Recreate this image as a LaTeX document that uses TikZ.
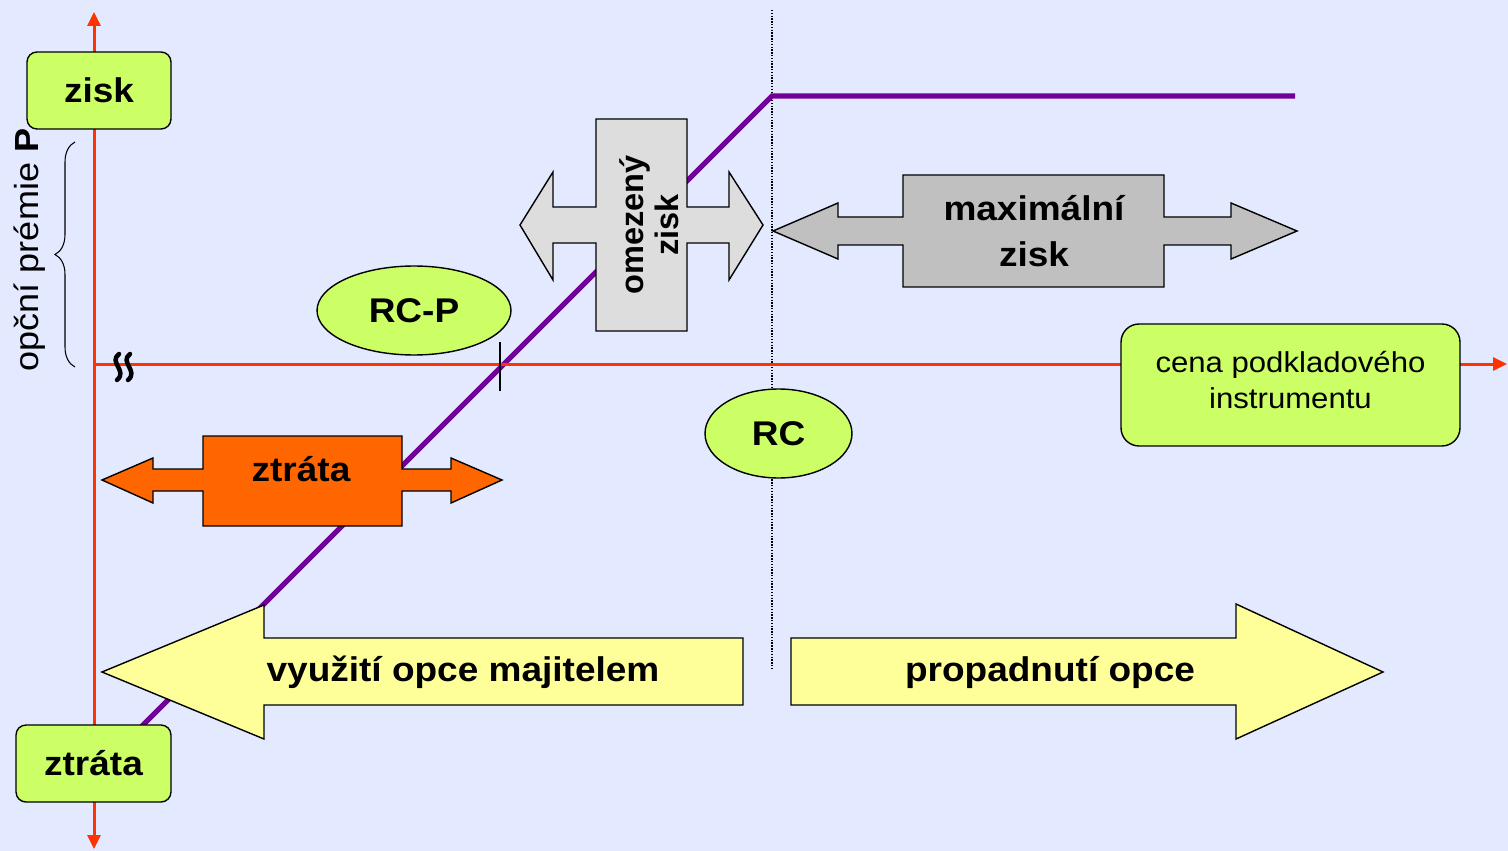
\documentclass[tikz,border=0pt]{standalone}
\usepackage{fontspec}
\setmainfont{Liberation Sans}[FakeStretch=1.08]
\newfontfamily\plainsans{Liberation Sans}
\usetikzlibrary{arrows.meta,decorations.pathreplacing,shapes.geometric}
\definecolor{bg}{RGB}{227,233,255}
\definecolor{axisred}{RGB}{255,51,0}
\definecolor{payoffc}{RGB}{112,0,150}
\definecolor{lime}{RGB}{204,255,102}
\definecolor{orng}{RGB}{255,102,0}
\definecolor{lgray}{RGB}{221,221,221}
\definecolor{mgray}{RGB}{192,192,192}
\definecolor{lyellow}{RGB}{255,255,153}
\begin{document}
\begin{tikzpicture}[x=0.02cm,y=-0.02cm,
  axis/.style={draw=axisred,line width=0.06cm},
  axtip/.style={-{Triangle[length=0.28cm,width=0.26cm]}},
  payoffline/.style={draw=payoffc,line width=0.105cm},
  bigfont/.style={font=\fontsize{19.5}{22}\selectfont\bfseries},
  greenbox/.style={draw=black,fill=lime,line width=0.8pt,rounded corners=0.2cm,bigfont,inner sep=0pt},
  greenell/.style={ellipse,draw=black,fill=lime,line width=0.8pt,bigfont,inner sep=0pt},
  shapeout/.style={draw=black,line width=0.8pt},
  boldlabel/.style={bigfont,align=center,inner sep=0pt}
]
\path[use as bounding box,fill=bg] (0,0) rectangle (1508,851);

% named coordinates
\coordinate (ytop) at (94,12);
\coordinate (ybot) at (94,849);
\coordinate (orig) at (94,364);
\coordinate (xend) at (1507,364);
\coordinate (pstart) at (130,738);
\coordinate (pkink) at (772,96);
\coordinate (pend) at (1295,96);
\coordinate (dtop) at (772,10);
\coordinate (dbot) at (772,668);
\coordinate (ttop) at (500,342);
\coordinate (tbot) at (500,391);
\coordinate (btop) at (75,142);
\coordinate (bbot) at (75,367);

% dotted vertical line
\draw[line width=0.7pt,dash pattern=on 0.8pt off 0.8pt] (dtop) -- (dbot);
% payoff line
\draw[payoffline] (pstart) -- (pkink) -- (pend);
% axes
\draw[axis,axtip] (orig) -- (xend);
\draw[axis,{Triangle[length=0.28cm,width=0.26cm]}-{Triangle[length=0.28cm,width=0.26cm]}] (ybot) -- (ytop);
% tick
\draw[line width=0.8pt] (ttop) -- (tbot);
% break mark
\draw[line width=0.09cm,line cap=round] (119,354) .. controls (108,362) and (128,371) .. (117,380);
\draw[line width=0.09cm,line cap=round] (130,354) .. controls (119,362) and (139,371) .. (128,380);
% brace
\draw[line width=0.6pt,decorate,decoration={brace,amplitude=0.4cm}] (bbot) -- (btop);
\node[rotate=90,font=\fontsize{19}{22}\selectfont,inner sep=0pt] (premie) at (30,250) {opční prémie \textbf{P}};

% orange double arrow
\draw[shapeout,fill=orng] (102,480) -- (153,458) -- (153,469) -- (203,469) -- (203,436) -- (402,436) -- (402,469) -- (451,469) -- (451,458) -- (502,480) -- (451,503) -- (451,491) -- (402,491) -- (402,526) -- (203,526) -- (203,491) -- (153,491) -- (153,503) -- cycle;
\node[boldlabel] (ztratam) at (301,469) {ztráta};

% omezeny zisk cross arrow
\draw[shapeout,fill=lgray] (520,225) -- (553,172) -- (553,207) -- (596,207) -- (596,119) -- (687,119) -- (687,207) -- (729,207) -- (729,172) -- (763,225) -- (729,280) -- (729,243) -- (687,243) -- (687,331) -- (596,331) -- (596,243) -- (553,243) -- (553,280) -- cycle;
\node[boldlabel,rotate=90,font=\plainsans\fontsize{18.5}{20}\selectfont\bfseries] (omez) at (649,225) {omezený\\zisk};

% maximalni zisk arrow
\draw[shapeout,fill=mgray] (773,231) -- (838,203) -- (838,217) -- (903,217) -- (903,175) -- (1164,175) -- (1164,217) -- (1231,217) -- (1231,203) -- (1297,231) -- (1231,259) -- (1231,245) -- (1164,245) -- (1164,287) -- (903,287) -- (903,245) -- (838,245) -- (838,259) -- cycle;
\node[boldlabel,font=\fontsize{19.5}{26}\selectfont\bfseries] (maxz) at (1034,231) {maximální\\zisk};

% yellow arrows
\draw[shapeout,fill=lyellow] (102,672) -- (264,605) -- (264,638) -- (743,638) -- (743,705) -- (264,705) -- (264,739) -- cycle;
\node[boldlabel] (vyuz) at (463,672) {využití opce majitelem};
\draw[shapeout,fill=lyellow] (791,638) -- (1236,638) -- (1236,604) -- (1383,672) -- (1236,739) -- (1236,705) -- (791,705) -- cycle;
\node[boldlabel] (prop) at (1050,672) {propadnutí opce};

% green nodes
\node[greenbox,minimum width=2.88cm,minimum height=1.54cm] (zisk) at (99,90.5) {zisk};
\node[greenbox,minimum width=3.1cm,minimum height=1.54cm] (ztrata) at (93.5,763.5) {ztráta};
\node[greenbox,rounded corners=0.36cm,minimum width=6.78cm,minimum height=2.44cm] (cena) at (1290.5,385) {};
\node[align=center,inner sep=0pt,font=\fontsize{16.4}{21}\selectfont] (cenatext) at (1290.5,380) {cena podkladového\\instrumentu};
\node[greenell,minimum width=3.88cm,minimum height=1.78cm] (rcp) at (414,310.5) {RC-P};
\node[greenell,minimum width=2.94cm,minimum height=1.78cm] (rc) at (778.5,433.5) {RC};
\end{tikzpicture}
\end{document}
